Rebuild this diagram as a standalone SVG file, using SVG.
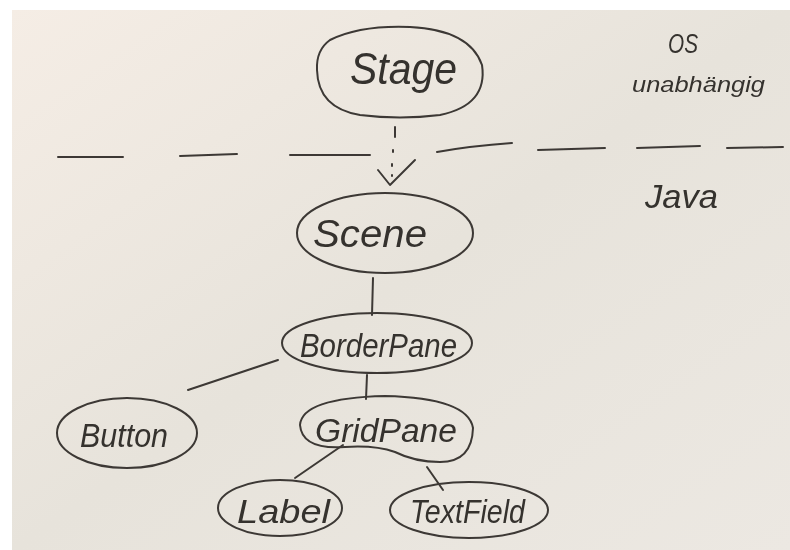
<svg xmlns="http://www.w3.org/2000/svg" width="790" height="550" viewBox="0 0 790 550">
  <defs>
    <linearGradient id="paper" x1="0" y1="0" x2="1" y2="1">
      <stop offset="0" stop-color="#f5ede5"/>
      <stop offset="0.5" stop-color="#e7e3db"/>
      <stop offset="1" stop-color="#ece8e2"/>
    </linearGradient>
    <filter id="soft" x="-5%" y="-5%" width="110%" height="110%">
      <feGaussianBlur stdDeviation="0.6"/>
    </filter>
  </defs>
  <style>
    .ink { fill: none; stroke: #3c3935; stroke-width: 2; stroke-linecap: round; stroke-linejoin: round; }
    .lbl { font-family: "Liberation Sans", Arial, sans-serif; fill: #35322e; font-style: italic; }
  </style>
  <rect x="0" y="0" width="790" height="550" fill="#ffffff"/>
  <rect x="12" y="10" width="778" height="540" fill="url(#paper)"/>

  <g filter="url(#soft)">
    <g id="layer-divider">
      <path class="ink" d="M58 157 L123 157 M180 156 L237 154 M290 155 L370 155 M437 152 Q470 146 512 143 M538 150 L605 148 M637 148 L700 146 M727 148 L783 147"/>
      <text class="lbl" x="668" y="53" font-size="27" textLength="30" lengthAdjust="spacingAndGlyphs">OS</text>
      <text class="lbl" x="632" y="92" font-size="22" textLength="133" lengthAdjust="spacingAndGlyphs">unabhängig</text>
      <text class="lbl" x="645" y="208" font-size="34" textLength="73" lengthAdjust="spacingAndGlyphs">Java</text>
    </g>

    <g id="connectors">
      <path class="ink" d="M395 127 L395 137 M393 150 L393 152 M392 164 L392 166 M392 175 L392 176"/>
      <path class="ink" d="M378 170 L390 185 L415 160"/>
      <path class="ink" d="M373 278 L372 315"/>
      <path class="ink" d="M278 360 L188 390"/>
      <path class="ink" d="M367 375 L366 399"/>
      <path class="ink" d="M343 445 L295 478"/>
      <path class="ink" d="M427 467 L443 490"/>
    </g>

    <g id="stage">
      <path class="ink" d="M330 40 Q360 25 410 27 Q470 30 482 65 Q488 105 440 115 Q400 120 360 115 Q318 108 317 70 Q316 50 330 40 Z"/>
      <text class="lbl" x="350" y="84" font-size="44" textLength="107" lengthAdjust="spacingAndGlyphs">Stage</text>
    </g>

    <g id="scene">
      <ellipse class="ink" cx="385" cy="233" rx="88" ry="40"/>
      <text class="lbl" x="313" y="247" font-size="38" textLength="114" lengthAdjust="spacingAndGlyphs">Scene</text>
    </g>

    <g id="borderpane">
      <ellipse class="ink" cx="377" cy="343" rx="95" ry="30"/>
      <text class="lbl" x="300" y="357" font-size="34" textLength="157" lengthAdjust="spacingAndGlyphs">BorderPane</text>
    </g>

    <g id="button">
      <ellipse class="ink" cx="127" cy="433" rx="70" ry="35"/>
      <text class="lbl" x="80" y="447" font-size="34" textLength="88" lengthAdjust="spacingAndGlyphs">Button</text>
    </g>

    <g id="gridpane">
      <path class="ink" d="M300 425 Q302 398 385 396 Q468 398 473 428 Q472 462 440 462 Q415 462 395 452 Q375 445 345 447 Q302 450 300 425 Z"/>
      <text class="lbl" x="315" y="442" font-size="34" textLength="142" lengthAdjust="spacingAndGlyphs">GridPane</text>
    </g>

    <g id="label">
      <ellipse class="ink" cx="280" cy="508" rx="62" ry="28"/>
      <text class="lbl" x="237" y="523" font-size="34" textLength="93" lengthAdjust="spacingAndGlyphs">Label</text>
    </g>

    <g id="textfield">
      <ellipse class="ink" cx="469" cy="510" rx="79" ry="28"/>
      <text class="lbl" x="410" y="523" font-size="34" textLength="115" lengthAdjust="spacingAndGlyphs">TextField</text>
    </g>
  </g>
</svg>
